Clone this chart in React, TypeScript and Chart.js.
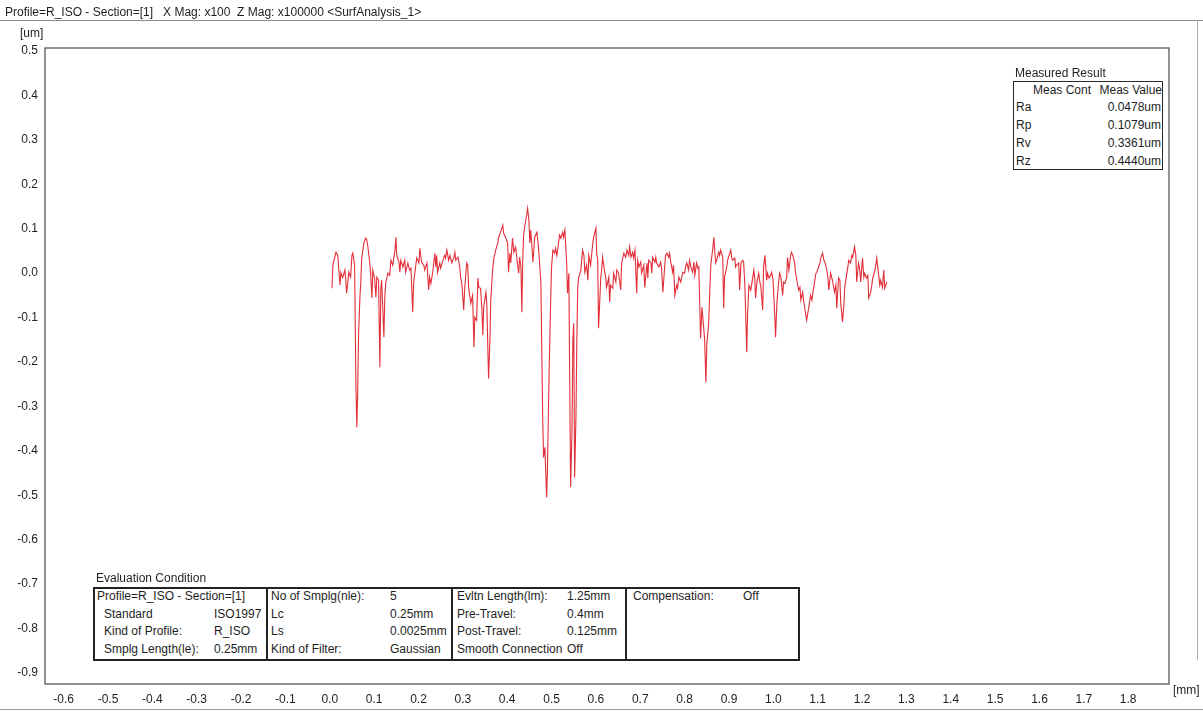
import React, { useEffect, useRef } from "react";
import { Chart, registerables } from "chart.js";

Chart.register(...registerables);

// ---- Profile data: [X (mm), Z (um)] ----
const profileSeg1: [number, number][] = [
  [0.005,-0.034],[0.007,0.018],[0.014,0.047],[0.018,0.040],[0.023,-0.027],[0.025,0.002],[0.029,-0.010],[0.034,0.007],[0.036,-0.016],[0.038,-0.045],
  [0.043,0.002],[0.047,-0.009],[0.050,0.040],[0.052,0.045],[0.056,0.018],[0.059,-0.257],[0.061,-0.347],[0.063,-0.264],[0.065,-0.135],[0.068,-0.054],
  [0.070,-0.020],[0.072,0.034],[0.077,0.068],[0.081,0.079],[0.083,0.077],[0.086,0.059],[0.090,0.025],[0.092,0.002],[0.095,-0.056],[0.097,0.007],
  [0.101,-0.011],[0.104,-0.054],[0.106,-0.009],[0.110,-0.016],[0.113,-0.212],[0.115,-0.038],[0.117,-0.016],[0.122,-0.144],[0.124,-0.054],[0.126,-0.023],
  [0.131,0.000],[0.135,-0.005],[0.138,0.029],[0.142,0.018],[0.147,0.052],[0.149,0.081],[0.151,0.040],[0.156,0.025],[0.158,0.002],[0.160,0.029],
  [0.165,0.014],[0.169,0.029],[0.171,0.002],[0.176,0.023],[0.180,0.007],[0.183,0.011],[0.187,-0.088],[0.189,-0.023],[0.192,0.002],[0.196,0.034],
  [0.201,0.023],[0.203,0.056],[0.207,0.025],[0.212,0.018],[0.214,0.007],[0.219,0.023],[0.223,-0.038],[0.225,-0.009],[0.228,-0.023],[0.232,0.002],
  [0.237,0.045],[0.239,0.014],[0.241,0.040],[0.243,0.002],[0.248,0.023],[0.250,0.011],[0.255,0.029],[0.259,0.040],[0.261,0.034],[0.264,0.052],
  [0.268,0.029],[0.271,0.040],[0.275,0.023],[0.280,0.036],[0.282,0.047],[0.284,0.029],[0.289,0.036],[0.293,0.014],[0.295,-0.009],[0.298,-0.027],
  [0.302,-0.083],[0.304,-0.038],[0.307,0.002],[0.309,0.023],[0.311,0.018],
];

const profileSeg2: [number, number][] = [
  [0.313,-0.032],[0.318,-0.068],[0.322,-0.050],[0.325,-0.167],[0.327,-0.099],[0.331,-0.106],[0.334,-0.011],[0.336,-0.032],[0.340,-0.034],[0.343,-0.083],
  [0.345,-0.140],[0.347,-0.077],[0.352,-0.043],[0.354,-0.068],[0.358,-0.237],[0.361,-0.151],[0.363,-0.061],[0.367,0.007],[0.370,0.034],[0.374,0.052],
  [0.379,0.068],[0.381,0.081],[0.385,0.092],[0.390,0.108],[0.392,0.090],[0.397,0.079],[0.401,0.068],[0.403,0.002],[0.406,0.045],[0.408,0.023],
  [0.412,0.079],[0.415,0.047],[0.419,0.059],[0.424,0.014],[0.426,0.000],[0.428,0.036],[0.431,0.014],[0.433,-0.088],[0.435,0.029],[0.437,0.086],
  [0.440,0.108],[0.444,0.131],[0.446,0.146],[0.449,0.119],[0.451,0.068],[0.453,0.097],[0.458,0.025],[0.460,0.052],[0.462,0.081],[0.467,0.092],
  [0.469,0.074],[0.471,0.052],[0.476,-0.023],[0.478,-0.174],[0.480,-0.325],[0.482,-0.415],[0.485,-0.392],[0.487,-0.451],[0.489,-0.505],[0.491,-0.428],
  [0.494,-0.248],[0.498,-0.061],[0.500,0.014],[0.503,0.052],[0.507,0.045],[0.509,0.056],[0.512,0.040],[0.516,0.070],[0.518,0.086],[0.521,0.079],
  [0.525,0.092],[0.527,0.081],[0.530,0.097],[0.534,0.025],[0.536,-0.045],[0.539,0.000],[0.541,-0.248],[0.543,-0.482],[0.546,-0.361],[0.548,-0.151],
  [0.550,-0.113],[0.552,-0.460],[0.555,-0.325],[0.557,-0.151],[0.559,-0.032],[0.561,-0.011],[0.566,0.007],[0.570,0.052],[0.573,0.040],[0.575,0.002],
  [0.579,0.018],[0.582,-0.016],[0.584,0.040],[0.588,0.018],[0.593,0.068],[0.595,0.081],[0.600,0.101],[0.602,0.040],[0.604,0.034],[0.606,-0.124],
  [0.611,-0.009],[0.613,0.007],[0.615,0.036],[0.620,0.002],[0.622,-0.009],
];

const profileSeg3: [number, number][] = [
  [0.624,-0.032],[0.629,-0.009],[0.631,-0.065],[0.633,-0.027],[0.638,-0.034],[0.640,0.000],[0.645,-0.020],[0.647,0.007],[0.651,0.000],[0.656,-0.038],
  [0.658,0.023],[0.663,0.045],[0.667,0.036],[0.670,0.052],[0.674,0.040],[0.676,0.059],[0.679,0.036],[0.683,0.047],[0.685,0.034],[0.688,0.052],
  [0.692,-0.045],[0.694,0.029],[0.697,0.014],[0.701,0.025],[0.703,0.000],[0.708,0.018],[0.710,-0.032],[0.715,0.023],[0.717,-0.011],[0.719,0.029],
  [0.724,0.023],[0.726,0.000],[0.728,0.036],[0.733,0.025],[0.735,0.036],[0.737,0.023],[0.742,0.014],[0.746,0.025],[0.748,0.011],[0.751,-0.043],
  [0.755,0.014],[0.757,0.040],[0.760,0.045],[0.764,0.036],[0.766,0.045],[0.769,0.023],[0.773,0.002],[0.775,0.018],[0.778,-0.050],[0.782,-0.027],
  [0.784,-0.034],[0.787,-0.009],[0.791,-0.020],[0.793,-0.011],[0.796,0.002],[0.800,0.000],[0.802,0.014],[0.805,0.023],[0.809,0.007],[0.811,0.029],
  [0.814,0.014],[0.818,0.002],[0.821,0.025],[0.823,-0.005],[0.827,0.023],[0.830,0.011],[0.832,0.014],[0.836,-0.147],[0.839,-0.077],[0.841,-0.099],
  [0.845,-0.147],[0.848,-0.246],[0.850,-0.158],[0.854,-0.117],[0.857,-0.032],[0.859,0.018],[0.863,0.052],[0.866,0.081],[0.868,0.047],[0.870,0.023],
  [0.872,0.029],[0.877,0.047],[0.879,0.040],[0.881,0.052],[0.886,0.036],[0.888,-0.079],[0.890,-0.009],[0.895,0.014],[0.897,0.029],[0.899,0.036],
  [0.904,0.052],[0.906,0.036],[0.908,0.029],[0.913,0.034],[0.915,0.014],[0.917,0.018],[0.922,0.023],[0.924,-0.038],[0.927,0.023],[0.931,0.029],
];

const profileSeg4: [number, number][] = [
  [0.933,0.025],[0.936,-0.032],[0.940,-0.178],[0.942,-0.090],[0.945,-0.027],[0.949,-0.038],[0.951,-0.027],[0.956,0.007],[0.958,-0.011],[0.960,-0.056],
  [0.963,-0.020],[0.967,0.000],[0.969,-0.016],[0.972,-0.032],[0.976,-0.083],[0.978,0.014],[0.981,0.040],[0.985,-0.016],[0.987,0.000],[0.990,-0.011],
  [0.994,-0.005],[0.996,0.002],[0.999,-0.011],[1.003,-0.090],[1.005,-0.144],[1.008,-0.068],[1.012,-0.020],[1.014,0.000],[1.017,-0.009],[1.021,-0.050],
  [1.023,-0.020],[1.026,-0.023],[1.030,-0.011],[1.032,0.036],[1.035,0.007],[1.039,0.040],[1.041,0.047],[1.044,0.040],[1.048,0.023],[1.050,0.002],
  [1.053,-0.016],[1.057,-0.038],[1.060,-0.032],[1.062,-0.061],[1.066,-0.043],[1.069,-0.068],[1.071,-0.079],[1.075,-0.106],[1.078,-0.088],[1.080,-0.077],
  [1.084,-0.050],[1.087,-0.061],[1.089,-0.045],[1.093,-0.020],[1.096,0.000],[1.098,0.002],[1.102,0.014],[1.105,0.023],[1.107,0.034],[1.111,0.045],
  [1.114,0.029],[1.116,0.025],[1.120,0.011],[1.123,-0.011],[1.125,-0.038],[1.129,0.000],[1.132,-0.011],[1.134,-0.020],[1.138,-0.043],[1.141,-0.027],
  [1.143,-0.079],[1.147,-0.011],[1.150,-0.016],[1.152,-0.068],[1.156,-0.110],[1.159,-0.072],[1.161,-0.032],[1.165,-0.005],[1.168,0.014],[1.170,0.029],
  [1.174,0.023],[1.177,0.040],[1.179,0.036],[1.183,0.059],[1.186,0.040],[1.188,-0.020],[1.192,0.023],[1.195,0.007],[1.197,-0.020],[1.201,0.034],
  [1.204,-0.009],[1.206,0.000],[1.210,-0.011],[1.213,-0.005],[1.215,-0.056],[1.219,-0.045],[1.222,-0.027],[1.224,-0.011],[1.228,0.002],[1.231,0.018],
  [1.233,0.034],[1.237,0.000],[1.240,-0.027],[1.242,-0.016],[1.246,-0.032],[1.249,0.007],[1.251,-0.034],[1.256,-0.020],
];

// ---- Axes ----
const xRange = { min: -0.642, max: 1.892 };
const yRange = { min: -0.925, max: 0.507 };
const tickStep = 0.1;

// ---- Texts ----
const headerText = "Profile=R_ISO - Section=[1]   X Mag: x100  Z Mag: x100000 <SurfAnalysis_1>";
const yUnit = "[um]";
const xUnit = "[mm]";

const measTitle = "Measured Result";
const measHeader = ["Meas Cont", "Meas Value"];
const measNames = ["Ra", "Rp", "Rv", "Rz"];
const measValues = ["0.0478um", "0.1079um", "0.3361um", "0.4440um"];

const evalTitle = "Evaluation Condition";
const evalCol1Labels = ["Profile=R_ISO - Section=[1]", "Standard", "Kind of Profile:", "Smplg Length(le):"];
const evalCol1Values = ["", "ISO1997", "R_ISO", "0.25mm"];
const evalCol2Labels = ["No of Smplg(nle):", "Lc", "Ls", "Kind of Filter:"];
const evalCol2Values = ["5", "0.25mm", "0.0025mm", "Gaussian"];
const evalCol3Labels = ["Evltn Length(lm):", "Pre-Travel:", "Post-Travel:", "Smooth Connection"];
const evalCol3Values = ["1.25mm", "0.4mm", "0.125mm", "Off"];
const evalCol4Labels = ["Compensation:", "", "", ""];
const evalCol4Values = ["Off", "", "", ""];

const FONT = "'Liberation Sans', Arial, Helvetica, sans-serif";
const TEXT_COLOR = "#1e1e1e";

function T(props: { x: number; y: number; text: string; right?: boolean; size?: number }) {
  const size = props.size ?? 12;
  const style: React.CSSProperties = {
    position: "absolute",
    top: props.y - 7,
    lineHeight: "14px",
    fontSize: size,
    fontFamily: FONT,
    color: TEXT_COLOR,
    whiteSpace: "pre",
  };
  if (props.right) {
    style.right = 1203 - props.x;
  } else {
    style.left = props.x;
  }
  return <div style={style}>{props.text}</div>;
}

const fmt = (v: number) => {
  const r = Math.round(v * 10) / 10;
  return (Math.abs(r) < 1e-9 ? 0 : r).toFixed(1);
};

const framePlugin = {
  id: "frame",
  afterDraw(chart: any) {
    const { ctx, chartArea } = chart;
    ctx.save();
    ctx.strokeStyle = "#4a4a4a";
    ctx.lineWidth = 1.2;
    ctx.strokeRect(chartArea.left, chartArea.top, chartArea.right - chartArea.left, chartArea.bottom - chartArea.top);
    ctx.restore();
  },
};

export default function App() {
  const canvasRef = useRef<HTMLCanvasElement | null>(null);

  useEffect(() => {
    const canvas = canvasRef.current;
    if (!canvas) return;
    const points = [...profileSeg1, ...profileSeg2, ...profileSeg3, ...profileSeg4].map(([x, y]) => ({ x, y }));
    const chart = new Chart(canvas, {
      type: "line",
      data: {
        datasets: [
          {
            data: points,
            borderColor: "rgb(226, 46, 56)",
            borderWidth: 1.1,
            pointRadius: 0,
            tension: 0,
            fill: false,
          },
        ],
      },
      options: {
        responsive: false,
        animation: false,
        devicePixelRatio: 1,
        parsing: false as any,
        layout: { padding: { left: 0, top: 48, right: 34, bottom: 0 } },
        plugins: { legend: { display: false }, tooltip: { enabled: false }, title: { display: false } },
        scales: {
          x: {
            type: "linear",
            min: xRange.min,
            max: xRange.max,
            grid: { display: false, drawTicks: false },
            border: { display: false },
            ticks: {
              stepSize: tickStep,
              includeBounds: false,
              autoSkip: false,
              maxRotation: 0,
              padding: 8,
              color: TEXT_COLOR,
              font: { family: FONT, size: 12 },
              callback: (v: any) => fmt(Number(v)),
            },
            afterFit: (s: any) => {
              s.height = 27;
            },
          },
          y: {
            type: "linear",
            min: yRange.min,
            max: yRange.max,
            grid: { display: false, drawTicks: false },
            border: { display: false },
            ticks: {
              stepSize: tickStep,
              includeBounds: false,
              autoSkip: false,
              padding: 7,
              color: TEXT_COLOR,
              font: { family: FONT, size: 12 },
              callback: (v: any) => fmt(Number(v)),
            },
            afterFit: (s: any) => {
              s.width = 45;
            },
          },
        },
      },
      plugins: [framePlugin],
    });
    return () => chart.destroy();
  }, []);

  const rowY = [596, 613.5, 631, 649];

  return (
    <div style={{ position: "absolute", left: 0, top: 0, width: 1203, height: 711, background: "#fff", overflow: "hidden" }}>
      <canvas ref={canvasRef} width={1203} height={711} style={{ position: "absolute", left: 0, top: 0, width: 1203, height: 711 }} />

      {/* page header */}
      <T x={5} y={12} text={headerText} />
      <div style={{ position: "absolute", left: 0, top: 20, width: 1203, height: 1, background: "#8a8a8a" }} />
      <div style={{ position: "absolute", left: 1197, top: 20, width: 1, height: 640, background: "#b0b0b0" }} />
      <div style={{ position: "absolute", left: 0, top: 709, width: 1203, height: 1, background: "#9a9a9a" }} />

      {/* axis units */}
      <T x={20} y={33} text={yUnit} />
      <T x={1173} y={690} text={xUnit} />

      {/* measured result */}
      <T x={1015} y={73} text={measTitle} />
      <div style={{ position: "absolute", left: 1013, top: 81, width: 150, height: 89, border: "1.5px solid #2a2a2a", boxSizing: "border-box", background: "#fff" }} />
      <T x={1033} y={90} text={measHeader[0]} />
      <T x={1162} y={90} text={measHeader[1]} right />
      {measNames.map((n, i) => (
        <T key={"mn" + i} x={1016} y={107 + i * 18} text={n} />
      ))}
      {measValues.map((v, i) => (
        <T key={"mv" + i} x={1161} y={107 + i * 18} text={v} right />
      ))}

      {/* evaluation condition */}
      <T x={96} y={578} text={evalTitle} />
      <div style={{ position: "absolute", left: 93, top: 587, width: 707, height: 74, border: "2px solid #222", boxSizing: "border-box", background: "#fff" }} />
      {[266, 451, 625].map((x, i) => (
        <div key={"dv" + i} style={{ position: "absolute", left: x, top: 587, width: 1.5, height: 74, background: "#222" }} />
      ))}
      {evalCol1Labels.map((t, i) => (
        <T key={"c1l" + i} x={i === 0 ? 97 : 104} y={rowY[i]} text={t} />
      ))}
      {evalCol1Values.map((t, i) => (t ? <T key={"c1v" + i} x={214} y={rowY[i]} text={t} /> : null))}
      {evalCol2Labels.map((t, i) => (
        <T key={"c2l" + i} x={271} y={rowY[i]} text={t} />
      ))}
      {evalCol2Values.map((t, i) => (
        <T key={"c2v" + i} x={390} y={rowY[i]} text={t} />
      ))}
      {evalCol3Labels.map((t, i) => (
        <T key={"c3l" + i} x={457} y={rowY[i]} text={t} />
      ))}
      {evalCol3Values.map((t, i) => (
        <T key={"c3v" + i} x={567} y={rowY[i]} text={t} />
      ))}
      {evalCol4Labels.map((t, i) => (t ? <T key={"c4l" + i} x={633} y={rowY[i]} text={t} /> : null))}
      {evalCol4Values.map((t, i) => (t ? <T key={"c4v" + i} x={743} y={rowY[i]} text={t} /> : null))}
    </div>
  );
}
